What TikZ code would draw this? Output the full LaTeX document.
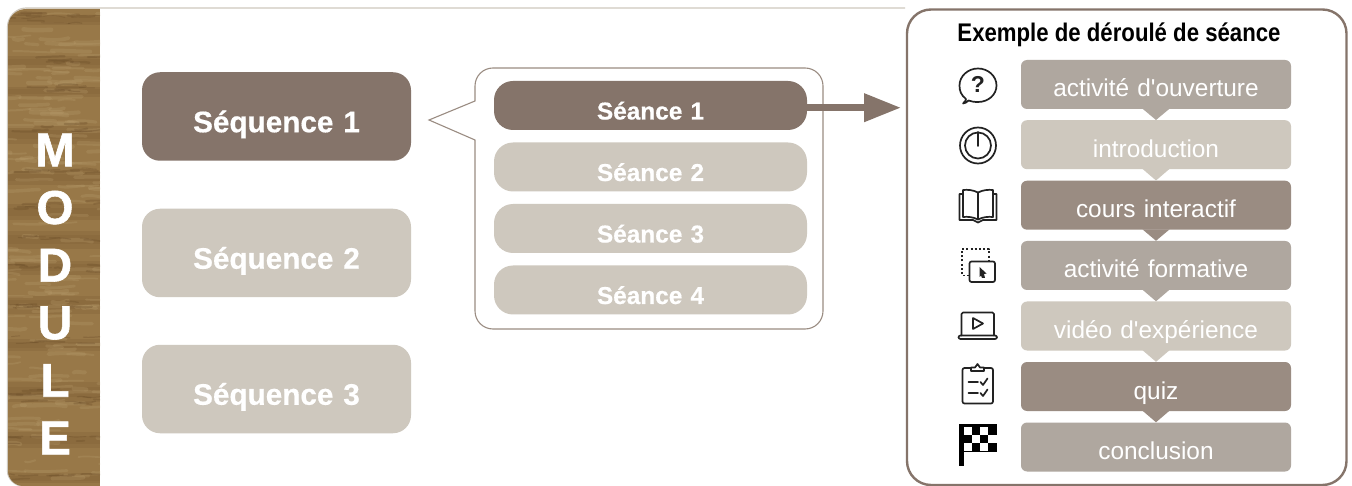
\documentclass[tikz,border=0pt]{standalone}
\usepackage{fontspec}
\usetikzlibrary{arrows.meta,calc}
\newfontfamily\rb{Liberation Sans}
\newfontfamily\rbheavy[FakeBold=1.2]{Liberation Sans Bold}
\newfontfamily\rbsemi[FakeBold=0.5]{Liberation Sans Bold}
\newfontfamily\rbcond[FakeStretch=0.87]{Liberation Sans}
\definecolor{cDark}{HTML}{85746A}
\definecolor{cLight}{HTML}{CEC8BE}
\definecolor{cMid}{HTML}{AFA79F}
\definecolor{cDeep}{HTML}{9A8C82}
\definecolor{cWood}{HTML}{987848}
\definecolor{cGrain}{HTML}{6A4C28}
\definecolor{cPale}{HTML}{B89C6C}
\definecolor{cIcon}{HTML}{222222}
\tikzset{
  seq/.style={rounded corners=18pt,minimum width=269pt,inner sep=0pt,text width=269pt,align=center,text=white,
    font=\rbsemi\fontsize{29.7}{32}\selectfont,text height=60pt,text depth=28.5pt},
  sea/.style={rounded corners=19pt,inner sep=0pt,text width=313pt,align=center,text=white,
    font=\rbsemi\fontsize{24.4}{28}\selectfont,text height=38.5pt,text depth=10.5pt},
  stepbox/.style={rounded corners=6pt,inner sep=0pt,text width=270pt,align=center,text=white,
    font=\rb\fontsize{24.4}{28}\selectfont,text height=37pt,text depth=12pt},
  icon/.style={draw=cIcon,line width=1.7pt,line join=round,line cap=round},
}
\begin{document}
\begin{tikzpicture}[x=1pt,y=-1pt]
\useasboundingbox (0,0) rectangle (1352,486);
\fill[white] (0,0) rectangle (1352,486);
% top rule and left edge of the frame
\draw[cLight,line width=1.2pt] (905,8) -- (26,8) .. controls (16,8) and (7.5,17) .. (7.5,27) -- (7.5,471) .. controls (7.5,479) and (15,486) .. (23,486);
% wood band
\begin{scope}
  \clip (100,9) -- (26,9) .. controls (16,9) and (8,17) .. (8,27) -- (8,471) .. controls (8,479) and (15,486) .. (23,486) -- (100,486) -- cycle;
  \fill[cWood] (0,0) rectangle (100,486);
  \pgfmathsetseed{7}
  % broad soft bands
  \foreach \yb/\hb in {20/5,62/6,92/5,135/9,178/7,212/8,240/9,268/7,305/9,345/6,392/10,440/8,478/5}{
    \fill[cGrain,opacity=.16] (0,\yb-\hb) rectangle (100,\yb+\hb);
    \fill[cGrain,opacity=.12] (0,\yb-\hb*.5) rectangle (100,\yb+\hb*.5);
  }
  \foreach \i in {1,...,170}{
    \pgfmathsetmacro{\xa}{rnd*115-15}
    \pgfmathsetmacro{\ya}{rnd*480+5}
    \pgfmathsetmacro{\la}{rnd*35+10}
    \pgfmathsetmacro{\wa}{rnd*3+1.5}
    \draw[cPale,opacity=.28,line width=\wa pt,line cap=round] (\xa,\ya) .. controls (\xa+\la/3,\ya+rand*2) and (\xa+2*\la/3,\ya+rand*2) .. (\xa+\la,\ya+rand*1.5);
  }
  \foreach \yb in {14,20,60,88,128,172,205,237,268,305,340,392,400,440,478}{
    \foreach \j in {1,...,7}{
      \pgfmathsetmacro{\xa}{rnd*100-5}
      \pgfmathsetmacro{\ya}{\yb+rand*4}
      \pgfmathsetmacro{\la}{rnd*24+6}
      \pgfmathsetmacro{\wa}{rnd*1.6+.8}
      \draw[cGrain,opacity=.32,line width=\wa pt,line cap=round] (\xa,\ya) .. controls (\xa+\la/3,\ya+rand*1.5) and (\xa+2*\la/3,\ya+rand*1.5) .. (\xa+\la,\ya+rand*1.5);
    }
  }
\end{scope}
\node[text=white,inner sep=0pt,align=center,font=\rbheavy\fontsize{47.5}{57.6}\selectfont] (module) at (55,294) {M\\O\\D\\U\\L\\E};
% sequences
\node[seq,fill=cDark] (q1) at (276.5,116.5) {Séquence 1};
\node[seq,fill=cLight] (q2) at (276.5,253) {Séquence 2};
\node[seq,fill=cLight] (q3) at (276.5,389) {Séquence 3};
% callout
\draw[fill=white,draw=cDeep,line width=1.1pt,line join=miter]
  (429,120) -- (475,101) -- (475,86) .. controls (475,76) and (483,68) .. (493,68) -- (805,68) .. controls (815,68) and (823,76) .. (823,86)
  -- (823,311) .. controls (823,321) and (815,329) .. (805,329) -- (493,329) .. controls (483,329) and (475,321) .. (475,311) -- (475,140) -- cycle;
% sessions
\node[sea,fill=cDark] (s1) at (650.5,105.5) {Séance 1};
\node[sea,fill=cLight] (s2) at (650.5,167) {Séance 2};
\node[sea,fill=cLight] (s3) at (650.5,228.5) {Séance 3};
\node[sea,fill=cLight] (s4) at (650.5,290) {Séance 4};
% panel
\draw[cDark,line width=2.4pt,rounded corners=24pt,fill=white] (907,9.5) rectangle (1346.5,485);
\coordinate (aend) at (901,107.7);
\draw[cDark,line width=7pt,-{Triangle[length=37pt,width=27pt]}] (s1.east |- aend) -- (aend);
\node[inner sep=0pt,font=\rbcond\bfseries\fontsize{25.5}{28}\selectfont,text=black] (title) at (1119,35) {Exemple de déroulé de séance};
% steps
\node[stepbox,fill=cMid] (t1) at (1156,84.5) {activité d'ouverture};
\node[stepbox,fill=cLight] (t2) at (1156,144.7) {introduction};
\node[stepbox,fill=cDeep] (t3) at (1156,205.2) {cours interactif};
\node[stepbox,fill=cMid] (t4) at (1156,265.5) {activité formative};
\node[stepbox,fill=cLight] (t5) at (1156,326) {vidéo d'expérience};
\node[stepbox,fill=cDeep] (t6) at (1156,386.5) {quiz};
\node[stepbox,fill=cMid] (t7) at (1156,447) {conclusion};
\foreach \a/\b/\c in {t1/t2/cMid,t2/t3/cLight,t3/t4/cDeep,t4/t5/cMid,t5/t6/cLight,t6/t7/cDeep}{
  \fill[\c] ($(\a.south)+(-13.5,-.5)$) -- (\b.north) -- ($(\a.south)+(13.5,-.5)$) -- cycle;
}
% icon: question bubble
\draw[icon] (966,99) .. controls (961,95) and (959.5,91) .. (959.5,85.5) .. controls (959.5,76) and (968,68.5) .. (978,68.5) .. controls (988,68.5) and (996.5,76) .. (996.5,85.5) .. controls (996.5,95) and (988,102) .. (978,102) .. controls (974,102) and (971,101.5) .. (968.5,100.5) .. controls (967,102) and (965,103.5) .. (963,103.5) .. controls (965,101.5) and (966,100.5) .. (966,99) -- cycle;
\node[inner sep=0pt,text=cIcon,font=\rb\bfseries\fontsize{23}{24}\selectfont] (qmark) at (978,84.5) {?};
% icon: power
\draw[icon] (978,145.5) circle[radius=18];
\draw[icon] (978,145.5) circle[radius=13];
\draw[icon] (978,132) -- (978,146);
% icon: book
\draw[icon] (978,192.5) .. controls (973,190) and (968,189.5) .. (963,190) -- (963,217) .. controls (968,216.5) and (973,217) .. (978,219.5) .. controls (983,217) and (988,216.5) .. (993,217) -- (993,190) .. controls (988,189.5) and (983,190) .. (978,192.5) -- (978,219.5);
\draw[icon] (963,194) -- (959.5,194) -- (959.5,220) -- (973,220) -- (978,222.5) -- (983,220) -- (996.5,220) -- (996.5,194) -- (993,194);
% icon: formative activity
\draw[icon,line cap=butt,dash pattern=on 2pt off 2.2pt] (969,275.5) -- (962,275.5) -- (962,249) -- (989,249) -- (989,260);
\draw[icon,rounded corners=2pt] (969.5,261.5) rectangle (995,282);
\fill[cIcon] (979.5,267) -- (986.5,273.5) -- (984,274) -- (985,278) -- (982,278) -- (981,275.5) -- (979.5,277) -- cycle;
% icon: laptop
\draw[icon,rounded corners=1.5pt] (961.5,335.5) -- (961.5,312.5) -- (994,312.5) -- (994,335.5);
\draw[icon,rounded corners=2pt] (958.5,335.5) rectangle (997,339);
\draw[icon] (973,318) -- (983,323.5) -- (973,329) -- cycle;
% icon: clipboard
\draw[icon,rounded corners=2pt] (971,368) -- (962.5,368) -- (962.5,403.5) -- (993,403.5) -- (993,368) -- (984,368);
\draw[icon] (971,371) -- (971,367.5) -- (975,367.5) -- (977.5,364) -- (980,367.5) -- (984,367.5) -- (984,371) -- cycle;
\draw[icon] (968.5,382) -- (978,382) (980.5,382) -- (983,385) -- (987.5,378.5);
\draw[icon] (968.5,393) -- (978,393) (980.5,393) -- (983,396) -- (987.5,389.5);
% icon: chequered flag
\fill[black] (959,424) rectangle (963.5,466);
\fill[black] (963.5,424) rectangle (997,452);
\foreach \cx/\cy in {0/0,2/0,1/1,3/1,0/2,2/2}{
  \fill[white] ({963.5+\cx*8.3},{427+\cy*8}) rectangle ({963.5+(\cx+1)*8.3},{427+(\cy+1)*8});
}
\end{tikzpicture}
\end{document}
